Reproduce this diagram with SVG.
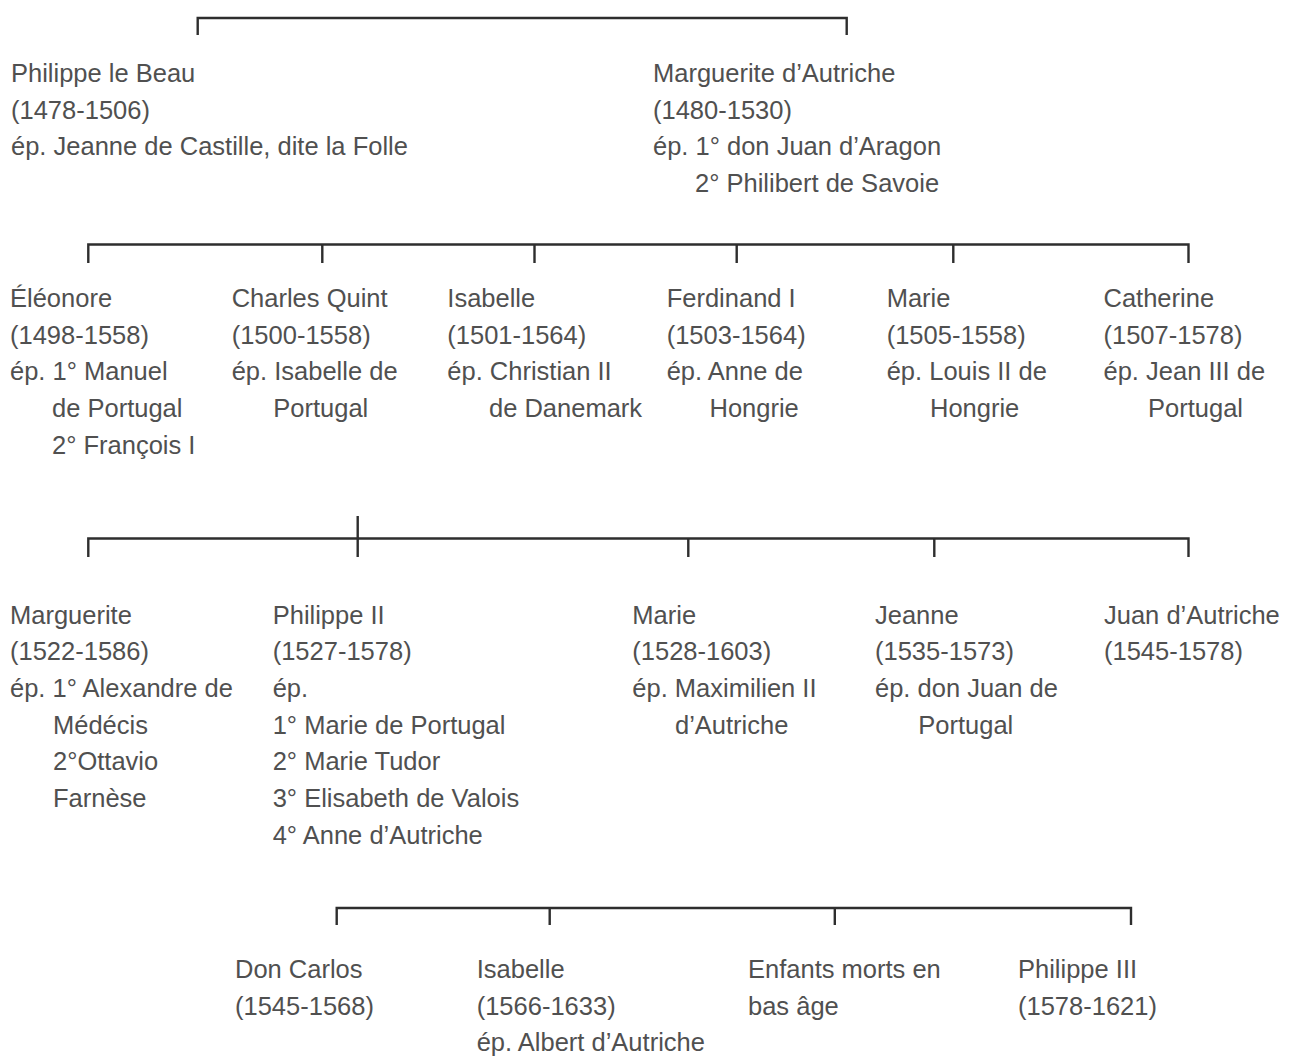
<svg xmlns="http://www.w3.org/2000/svg" width="1290" height="1056" viewBox="0 0 1290 1056">
<style>
text{font-family:"Liberation Sans",Arial,sans-serif;font-size:25.5px;fill:#505050}
.c{fill:none;stroke:#2e2e2e;stroke-width:2.4}
</style>
<rect width="1290" height="1056" fill="#ffffff"/>
<g id="connectors" class="c">
<path d="M197.7 35V18H846.7V35"/>
<path d="M88.3 263V244.5H1188.5V263M322.3 244.5V263M534.5 244.5V263M736.7 244.5V263M953.3 244.5V263"/>
<path d="M88.3 557V538.5H1188.5V557M357.7 516V557M688.3 538.5V557M934.3 538.5V557"/>
<path d="M336.7 925V908H1131V925M549.7 908V925M834.8 908V925"/>
</g>
<g id="philippe-le-beau">
<text x="11" y="82">Philippe le Beau</text>
<text x="11" y="118.7">(1478-1506)</text>
<text x="11" y="155.4">ép. Jeanne de Castille, dite la Folle</text>
</g>
<g id="marguerite-autriche">
<text x="653" y="82">Marguerite d’Autriche</text>
<text x="653" y="118.7">(1480-1530)</text>
<text x="653" y="155.4">ép. 1° don Juan d’Aragon</text>
<text x="695" y="192.1">2° Philibert de Savoie</text>
</g>
<g id="eleonore">
<text x="10" y="307">Éléonore</text>
<text x="10" y="343.7">(1498-1558)</text>
<text x="10" y="380.4">ép. 1° Manuel</text>
<text x="52" y="417.1">de Portugal</text>
<text x="52" y="453.8">2° François I</text>
</g>
<g id="charles-quint">
<text x="231.7" y="307">Charles Quint</text>
<text x="231.7" y="343.7">(1500-1558)</text>
<text x="231.7" y="380.4">ép. Isabelle de</text>
<text x="273.3" y="417.1">Portugal</text>
</g>
<g id="isabelle-1501">
<text x="447.3" y="307">Isabelle</text>
<text x="447.3" y="343.7">(1501-1564)</text>
<text x="447.3" y="380.4">ép. Christian II</text>
<text x="489" y="417.1">de Danemark</text>
</g>
<g id="ferdinand">
<text x="666.7" y="307">Ferdinand I</text>
<text x="666.7" y="343.7">(1503-1564)</text>
<text x="666.7" y="380.4">ép. Anne de</text>
<text x="709.5" y="417.1">Hongrie</text>
</g>
<g id="marie-1505">
<text x="886.7" y="307">Marie</text>
<text x="886.7" y="343.7">(1505-1558)</text>
<text x="886.7" y="380.4">ép. Louis II de</text>
<text x="930" y="417.1">Hongrie</text>
</g>
<g id="catherine">
<text x="1103.5" y="307">Catherine</text>
<text x="1103.5" y="343.7">(1507-1578)</text>
<text x="1103.5" y="380.4">ép. Jean III de</text>
<text x="1148" y="417.1">Portugal</text>
</g>
<g id="marguerite-1522">
<text x="10" y="623.5">Marguerite</text>
<text x="10" y="660.2">(1522-1586)</text>
<text x="10" y="696.9">ép. 1° Alexandre de</text>
<text x="53" y="733.6">Médécis</text>
<text x="53" y="770.3">2°Ottavio</text>
<text x="53" y="807">Farnèse</text>
</g>
<g id="philippe-ii">
<text x="272.7" y="623.5">Philippe II</text>
<text x="272.7" y="660.2">(1527-1578)</text>
<text x="272.7" y="696.9">ép.</text>
<text x="272.7" y="733.6">1° Marie de Portugal</text>
<text x="272.7" y="770.3">2° Marie Tudor</text>
<text x="272.7" y="807">3° Elisabeth de Valois</text>
<text x="272.7" y="843.7">4° Anne d’Autriche</text>
</g>
<g id="marie-1528">
<text x="632.3" y="623.5">Marie</text>
<text x="632.3" y="660.2">(1528-1603)</text>
<text x="632.3" y="696.9">ép. Maximilien II</text>
<text x="675" y="733.6">d’Autriche</text>
</g>
<g id="jeanne">
<text x="875" y="623.5">Jeanne</text>
<text x="875" y="660.2">(1535-1573)</text>
<text x="875" y="696.9">ép. don Juan de</text>
<text x="918.3" y="733.6">Portugal</text>
</g>
<g id="juan-autriche">
<text x="1104" y="623.5">Juan d’Autriche</text>
<text x="1104" y="660.2">(1545-1578)</text>
</g>
<g id="don-carlos">
<text x="235" y="978">Don Carlos</text>
<text x="235" y="1014.7">(1545-1568)</text>
</g>
<g id="isabelle-1566">
<text x="476.7" y="978">Isabelle</text>
<text x="476.7" y="1014.7">(1566-1633)</text>
<text x="476.7" y="1051.4">ép. Albert d’Autriche</text>
</g>
<g id="enfants">
<text x="748" y="978">Enfants morts en</text>
<text x="748" y="1014.7">bas âge</text>
</g>
<g id="philippe-iii">
<text x="1018" y="978">Philippe III</text>
<text x="1018" y="1014.7">(1578-1621)</text>
</g>
</svg>
